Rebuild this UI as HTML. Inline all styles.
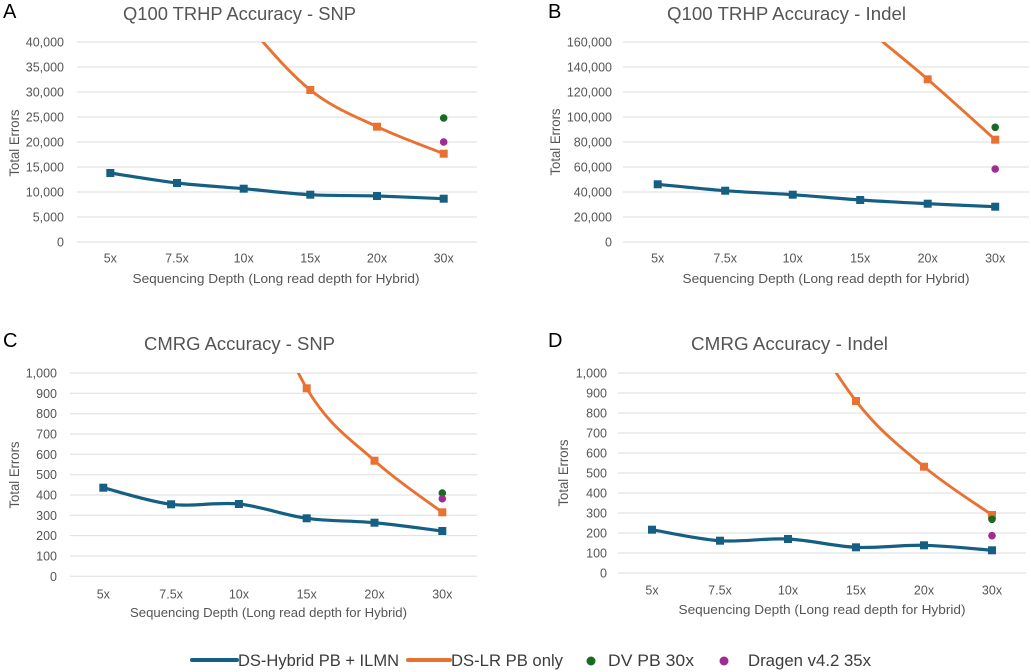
<!DOCTYPE html>
<html><head><meta charset="utf-8"><style>
html,body{margin:0;padding:0;background:#fff;}
svg{display:block;}
text{font-family:"Liberation Sans",Arial,sans-serif;}
.tk{font-size:12.5px;fill:#555;text-anchor:end;}
.xl{font-size:12.5px;fill:#555;text-anchor:middle;}
.xt{font-size:13px;fill:#555;text-anchor:middle;}
.yt{font-size:13.5px;fill:#555;text-anchor:middle;}
.ti{font-size:18.5px;fill:#555;}
.pl{font-size:20px;fill:#000;}
.lg{font-size:16.5px;fill:#3c3c3c;}
.g{stroke:#dedede;stroke-width:1;}
.b{fill:none;stroke:#156082;stroke-width:3.2;stroke-linejoin:round;}
.o{fill:none;stroke:#E97132;stroke-width:2.9;stroke-linejoin:round;}
.bm{fill:#156082;}
.om{fill:#E97132;}
</style></head><body>
<svg width="1031" height="672" viewBox="0 0 1031 672" xmlns="http://www.w3.org/2000/svg">
<defs>
<clipPath id="cA"><rect x="60" y="42" width="430" height="220"/></clipPath>
<clipPath id="cB"><rect x="610" y="42" width="430" height="220"/></clipPath>
<clipPath id="cC"><rect x="60" y="373" width="430" height="220"/></clipPath>
<clipPath id="cD"><rect x="610" y="373" width="430" height="220"/></clipPath>
</defs>

<!-- ===== Panel A ===== -->
<text class="pl" x="3" y="18">A</text>
<text class="ti" x="123" y="20" textLength="233" lengthAdjust="spacingAndGlyphs">Q100 TRHP Accuracy - SNP</text>
<g>
<line class="g" x1="77" x2="477" y1="42" y2="42"/>
<line class="g" x1="77" x2="477" y1="67" y2="67"/>
<line class="g" x1="77" x2="477" y1="92" y2="92"/>
<line class="g" x1="77" x2="477" y1="117" y2="117"/>
<line class="g" x1="77" x2="477" y1="142" y2="142"/>
<line class="g" x1="77" x2="477" y1="167" y2="167"/>
<line class="g" x1="77" x2="477" y1="192" y2="192"/>
<line class="g" x1="77" x2="477" y1="217" y2="217"/>
<line class="g" x1="77" x2="477" y1="242" y2="242"/>
</g>
<text class="tk" x="64" y="46.5">40,000</text>
<text class="tk" x="64" y="71.5">35,000</text>
<text class="tk" x="64" y="96.5">30,000</text>
<text class="tk" x="64" y="121.5">25,000</text>
<text class="tk" x="64" y="146.5">20,000</text>
<text class="tk" x="64" y="171.5">15,000</text>
<text class="tk" x="64" y="196.5">10,000</text>
<text class="tk" x="64" y="221.5">5,000</text>
<text class="tk" x="64" y="246.5">0</text>
<text class="xl" x="110.3" y="262.5">5x</text>
<text class="xl" x="177" y="262.5">7.5x</text>
<text class="xl" x="243.7" y="262.5">10x</text>
<text class="xl" x="310.3" y="262.5">15x</text>
<text class="xl" x="377" y="262.5">20x</text>
<text class="xl" x="443.7" y="262.5">30x</text>
<text class="xt" x="276" y="283" textLength="287" lengthAdjust="spacingAndGlyphs">Sequencing Depth (Long read depth for Hybrid)</text>
<text class="yt" transform="translate(19,143) rotate(-90)" textLength="67" lengthAdjust="spacingAndGlyphs">Total Errors</text>
<path class="o" clip-path="url(#cA)" d="M243.7,20 C265.9,45 288.1,72.2 310.3,90 C332.5,107.8 354.8,116.1 377,126.7 C399.2,137.3 432.6,149.2 443.7,153.7"/>
<path class="b" d="M110.3,173 C121.4,174.7 154.8,180.4 177,183 C199.2,185.6 221.5,186.75 243.7,188.7 C265.9,190.65 288.1,193.5 310.3,194.7 C332.5,195.9 354.8,195.3 377,196 C399.2,196.7 432.6,198.25 443.7,198.7"/>
<g class="bm">
<rect x="106.3" y="169" width="8" height="8"/>
<rect x="173" y="179" width="8" height="8"/>
<rect x="239.7" y="184.7" width="8" height="8"/>
<rect x="306.3" y="190.7" width="8" height="8"/>
<rect x="373" y="192" width="8" height="8"/>
<rect x="439.7" y="194.7" width="8" height="8"/>
</g>
<g class="om">
<rect x="306.3" y="86" width="8" height="8"/>
<rect x="373" y="122.7" width="8" height="8"/>
<rect x="439.7" y="149.7" width="8" height="8"/>
</g>
<circle cx="443.7" cy="118" r="3.8" fill="#196B24"/>
<circle cx="443.7" cy="142" r="3.8" fill="#A02B93"/>

<!-- ===== Panel B ===== -->
<text class="pl" x="548" y="18">B</text>
<text class="ti" x="667" y="20" textLength="239" lengthAdjust="spacingAndGlyphs">Q100 TRHP Accuracy - Indel</text>
<g>
<line class="g" x1="623" x2="1029" y1="42" y2="42"/>
<line class="g" x1="623" x2="1029" y1="67" y2="67"/>
<line class="g" x1="623" x2="1029" y1="92" y2="92"/>
<line class="g" x1="623" x2="1029" y1="117" y2="117"/>
<line class="g" x1="623" x2="1029" y1="142" y2="142"/>
<line class="g" x1="623" x2="1029" y1="167" y2="167"/>
<line class="g" x1="623" x2="1029" y1="192" y2="192"/>
<line class="g" x1="623" x2="1029" y1="217" y2="217"/>
<line class="g" x1="623" x2="1029" y1="242" y2="242"/>
</g>
<text class="tk" x="612" y="46.5">160,000</text>
<text class="tk" x="612" y="71.5">140,000</text>
<text class="tk" x="612" y="96.5">120,000</text>
<text class="tk" x="612" y="121.5">100,000</text>
<text class="tk" x="612" y="146.5">80,000</text>
<text class="tk" x="612" y="171.5">60,000</text>
<text class="tk" x="612" y="196.5">40,000</text>
<text class="tk" x="612" y="221.5">20,000</text>
<text class="tk" x="612" y="246.5">0</text>
<text class="xl" x="657.7" y="262.5">5x</text>
<text class="xl" x="725.2" y="262.5">7.5x</text>
<text class="xl" x="792.7" y="262.5">10x</text>
<text class="xl" x="860.2" y="262.5">15x</text>
<text class="xl" x="927.7" y="262.5">20x</text>
<text class="xl" x="995.2" y="262.5">30x</text>
<text class="xt" x="826" y="283" textLength="287" lengthAdjust="spacingAndGlyphs">Sequencing Depth (Long read depth for Hybrid)</text>
<text class="yt" transform="translate(560,142) rotate(-90)" textLength="67" lengthAdjust="spacingAndGlyphs">Total Errors</text>
<path class="o" clip-path="url(#cB)" d="M860.2,22.6 C882.7,42.5 905.2,59.8 927.7,79.3 C950.2,98.8 983.95,129.6 995.2,139.7"/>
<path class="b" d="M657.7,184.3 C668.95,185.37 702.7,188.97 725.2,190.7 C747.7,192.43 770.2,193.15 792.7,194.7 C815.2,196.25 837.7,198.5 860.2,200 C882.7,201.5 905.2,202.58 927.7,203.7 C950.2,204.82 983.95,206.2 995.2,206.7"/>
<g class="bm">
<rect x="653.7" y="180.3" width="8" height="8"/>
<rect x="721.2" y="186.7" width="8" height="8"/>
<rect x="788.7" y="190.7" width="8" height="8"/>
<rect x="856.2" y="196" width="8" height="8"/>
<rect x="923.7" y="199.7" width="8" height="8"/>
<rect x="991.2" y="202.7" width="8" height="8"/>
</g>
<g class="om">
<rect x="923.7" y="75.3" width="8" height="8"/>
<rect x="991.2" y="135.7" width="8" height="8"/>
</g>
<circle cx="995.2" cy="127.3" r="3.8" fill="#196B24"/>
<circle cx="995.2" cy="169" r="3.8" fill="#A02B93"/>

<!-- ===== Panel C ===== -->
<text class="pl" x="3" y="347">C</text>
<text class="ti" x="144" y="350" textLength="191" lengthAdjust="spacingAndGlyphs">CMRG Accuracy - SNP</text>
<g>
<line class="g" x1="70" x2="477" y1="373" y2="373"/>
<line class="g" x1="70" x2="477" y1="393.3" y2="393.3"/>
<line class="g" x1="70" x2="477" y1="413.7" y2="413.7"/>
<line class="g" x1="70" x2="477" y1="434" y2="434"/>
<line class="g" x1="70" x2="477" y1="454.3" y2="454.3"/>
<line class="g" x1="70" x2="477" y1="474.7" y2="474.7"/>
<line class="g" x1="70" x2="477" y1="495" y2="495"/>
<line class="g" x1="70" x2="477" y1="515.3" y2="515.3"/>
<line class="g" x1="70" x2="477" y1="535.6" y2="535.6"/>
<line class="g" x1="70" x2="477" y1="556" y2="556"/>
<line class="g" x1="70" x2="477" y1="576.3" y2="576.3"/>
</g>
<text class="tk" x="57" y="377.5">1,000</text>
<text class="tk" x="57" y="397.8">900</text>
<text class="tk" x="57" y="418.2">800</text>
<text class="tk" x="57" y="438.5">700</text>
<text class="tk" x="57" y="458.8">600</text>
<text class="tk" x="57" y="479.2">500</text>
<text class="tk" x="57" y="499.5">400</text>
<text class="tk" x="57" y="519.8">300</text>
<text class="tk" x="57" y="540.1">200</text>
<text class="tk" x="57" y="560.5">100</text>
<text class="tk" x="57" y="580.8">0</text>
<text class="xl" x="103.3" y="598.5">5x</text>
<text class="xl" x="171.1" y="598.5">7.5x</text>
<text class="xl" x="238.9" y="598.5">10x</text>
<text class="xl" x="306.7" y="598.5">15x</text>
<text class="xl" x="374.5" y="598.5">20x</text>
<text class="xl" x="442.3" y="598.5">30x</text>
<text class="xt" x="268.5" y="617" textLength="277" lengthAdjust="spacingAndGlyphs">Sequencing Depth (Long read depth for Hybrid)</text>
<text class="yt" transform="translate(19,475) rotate(-90)" textLength="67" lengthAdjust="spacingAndGlyphs">Total Errors</text>
<path class="o" clip-path="url(#cC)" d="M238.9,230 C261.5,286.4 284.1,349.8 306.7,388.3 C329.3,426.75 351.9,440.03 374.5,460.7 C397.1,481.37 431,503.7 442.3,512.3"/>
<path class="b" d="M103.3,487.7 C114.6,490.47 148.5,501.58 171.1,504.3 C193.7,507.02 216.3,501.67 238.9,504 C261.5,506.33 284.1,515.18 306.7,518.3 C329.3,521.42 351.9,520.58 374.5,522.7 C397.1,524.82 431,529.62 442.3,531"/>
<g class="bm">
<rect x="99.3" y="483.7" width="8" height="8"/>
<rect x="167.1" y="500.3" width="8" height="8"/>
<rect x="234.9" y="500" width="8" height="8"/>
<rect x="302.7" y="514.3" width="8" height="8"/>
<rect x="370.5" y="518.7" width="8" height="8"/>
<rect x="438.3" y="527" width="8" height="8"/>
</g>
<g class="om">
<rect x="302.7" y="384.3" width="8" height="8"/>
<rect x="370.5" y="456.7" width="8" height="8"/>
<rect x="438.3" y="508.3" width="8" height="8"/>
</g>
<circle cx="442.3" cy="493" r="3.8" fill="#196B24"/>
<circle cx="442.3" cy="498.7" r="3.8" fill="#A02B93"/>

<!-- ===== Panel D ===== -->
<text class="pl" x="548" y="347">D</text>
<text class="ti" x="691" y="350" textLength="197" lengthAdjust="spacingAndGlyphs">CMRG Accuracy - Indel</text>
<g>
<line class="g" x1="618" x2="1026" y1="373" y2="373"/>
<line class="g" x1="618" x2="1026" y1="393" y2="393"/>
<line class="g" x1="618" x2="1026" y1="413" y2="413"/>
<line class="g" x1="618" x2="1026" y1="433" y2="433"/>
<line class="g" x1="618" x2="1026" y1="453" y2="453"/>
<line class="g" x1="618" x2="1026" y1="473" y2="473"/>
<line class="g" x1="618" x2="1026" y1="493" y2="493"/>
<line class="g" x1="618" x2="1026" y1="513" y2="513"/>
<line class="g" x1="618" x2="1026" y1="533" y2="533"/>
<line class="g" x1="618" x2="1026" y1="553" y2="553"/>
<line class="g" x1="618" x2="1026" y1="573" y2="573"/>
</g>
<text class="tk" x="607" y="377.5">1,000</text>
<text class="tk" x="607" y="397.5">900</text>
<text class="tk" x="607" y="417.5">800</text>
<text class="tk" x="607" y="437.5">700</text>
<text class="tk" x="607" y="457.5">600</text>
<text class="tk" x="607" y="477.5">500</text>
<text class="tk" x="607" y="497.5">400</text>
<text class="tk" x="607" y="517.5">300</text>
<text class="tk" x="607" y="537.5">200</text>
<text class="tk" x="607" y="557.5">100</text>
<text class="tk" x="607" y="577.5">0</text>
<text class="xl" x="652" y="594.5">5x</text>
<text class="xl" x="720" y="594.5">7.5x</text>
<text class="xl" x="788" y="594.5">10x</text>
<text class="xl" x="856" y="594.5">15x</text>
<text class="xl" x="924" y="594.5">20x</text>
<text class="xl" x="992" y="594.5">30x</text>
<text class="xt" x="822" y="614" textLength="287" lengthAdjust="spacingAndGlyphs">Sequencing Depth (Long read depth for Hybrid)</text>
<text class="yt" transform="translate(568,473) rotate(-90)" textLength="67" lengthAdjust="spacingAndGlyphs">Total Errors</text>
<path class="o" clip-path="url(#cD)" d="M788,290 C810.67,331.8 833.33,371.55 856,401 C878.67,430.45 901.33,447.7 924,466.7 C946.67,485.7 980.67,506.95 992,515"/>
<path class="b" d="M652,529.7 C663.33,531.53 697.33,539.15 720,540.7 C742.67,542.25 765.33,537.9 788,539 C810.67,540.1 833.33,546.25 856,547.3 C878.67,548.35 901.33,544.8 924,545.3 C946.67,545.8 980.67,549.47 992,550.3"/>
<g class="bm">
<rect x="648" y="525.7" width="8" height="8"/>
<rect x="716" y="536.7" width="8" height="8"/>
<rect x="784" y="535" width="8" height="8"/>
<rect x="852" y="543.3" width="8" height="8"/>
<rect x="920" y="541.3" width="8" height="8"/>
<rect x="988" y="546.3" width="8" height="8"/>
</g>
<g class="om">
<rect x="852" y="397" width="8" height="8"/>
<rect x="920" y="462.7" width="8" height="8"/>
<rect x="988" y="511" width="8" height="8"/>
</g>
<circle cx="992" cy="519.3" r="3.8" fill="#196B24"/>
<circle cx="992" cy="535.7" r="3.8" fill="#A02B93"/>

<!-- ===== Legend ===== -->
<line x1="192" x2="237" y1="660" y2="660" stroke="#156082" stroke-width="4" stroke-linecap="round"/>
<text class="lg" x="238" y="666" textLength="161" lengthAdjust="spacingAndGlyphs">DS-Hybrid PB + ILMN</text>
<line x1="408" x2="450" y1="660" y2="660" stroke="#E97132" stroke-width="4" stroke-linecap="round"/>
<text class="lg" x="451" y="666" textLength="112" lengthAdjust="spacingAndGlyphs">DS-LR PB only</text>
<circle cx="591" cy="661" r="4.5" fill="#196B24"/>
<text class="lg" x="608" y="666" textLength="86" lengthAdjust="spacingAndGlyphs">DV PB 30x</text>
<circle cx="724" cy="661" r="4.5" fill="#A02B93"/>
<text class="lg" x="748" y="666" textLength="123" lengthAdjust="spacingAndGlyphs">Dragen v4.2 35x</text>
</svg>
</body></html>
